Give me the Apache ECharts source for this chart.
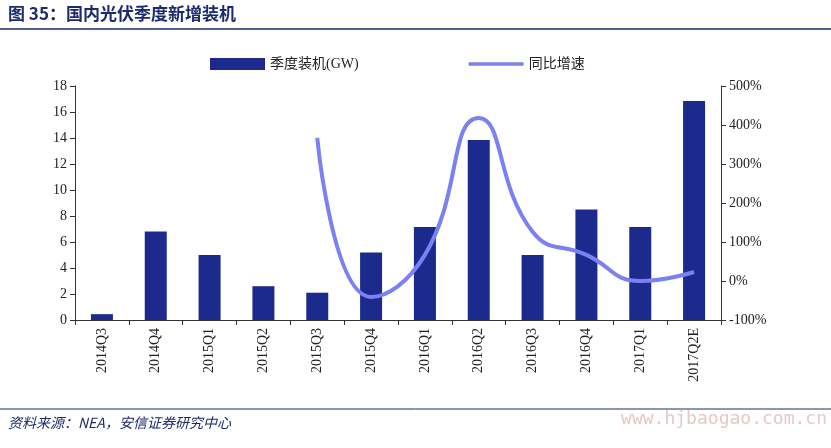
<!DOCTYPE html>
<html><head><meta charset="utf-8">
<script src="https://cdn.jsdelivr.net/npm/echarts@6/dist/echarts.min.js"></script>
<style>body{margin:0;background:#fff}#c{width:831px;height:448px}</style>
</head><body><div id="c"></div>
<script>
// 国内光伏季度新增装机
const categories = ['2014Q3','2014Q4','2015Q1','2015Q2','2015Q3','2015Q4','2016Q1','2016Q2','2016Q3','2016Q4','2017Q1','2017Q2E'];
const installs = [0.45, 6.8, 5.0, 2.6, 2.1, 5.2, 7.15, 13.85, 5.0, 8.5, 7.15, 16.85];
const yoyGrowth = [null, null, null, null, 367, -41, 67, 418, 126, 67, 0, 23];

const serif = '"Liberation Serif", "Noto Sans CJK SC", serif';
const chart = echarts.init(document.getElementById('c'));
chart.setOption({
    animation: false,
    graphic: [
        { type: 'text', left: 8, top: 5, style: { text: '图 35：国内光伏季度新增装机', font: 'bold 17px "Noto Sans CJK SC"', fill: '#1a2a6c' } },
        { type: 'line', shape: { x1: 0, y1: 29, x2: 831, y2: 29 }, style: { stroke: '#1a2a6c', lineWidth: 1.5 } },
        { type: 'line', shape: { x1: 0, y1: 409, x2: 831, y2: 409 }, style: { stroke: '#1a2a6c', lineWidth: 1 } },
        { type: 'text', left: 8, top: 416, style: { text: '资料来源：NEA，安信证券研究中心', font: 'italic 14px "Noto Sans CJK SC"', fill: '#1a2a6c' } },
        { type: 'text', right: 4, top: 410, style: { text: 'www.hjbaogao.com.cn', font: '18px "DejaVu Sans Mono"', fill: '#e6c8c8' } }
    ],
    legend: {
        top: 52, left: 205, itemGap: 110, itemWidth: 55, itemHeight: 12,
        textStyle: { fontFamily: serif, fontSize: 14, color: '#222' },
        data: [
            { name: '季度装机(GW)', icon: 'rect' },
            { name: '同比增速', icon: 'path://M0,5 L60,5 L60,9 L0,9 Z' }
        ]
    },
    grid: { left: 75, right: 110, top: 86, bottom: 128 },
    xAxis: {
        type: 'category', data: categories,
        axisLine: { lineStyle: { color: '#333' } },
        axisTick: { show: true },
        axisLabel: { rotate: 90, fontFamily: serif, fontSize: 14, color: '#222', interval: 0 }
    },
    yAxis: [
        { type: 'value', min: 0, max: 18, interval: 2, splitLine: { show: false },
          axisLine: { show: true, lineStyle: { color: '#333' } }, axisTick: { show: true },
          axisLabel: { fontFamily: serif, fontSize: 14, color: '#222' } },
        { type: 'value', min: -100, max: 500, interval: 100, splitLine: { show: false },
          axisLine: { show: true, lineStyle: { color: '#333' } }, axisTick: { show: true },
          axisLabel: { formatter: '{value}%', fontFamily: serif, fontSize: 14, color: '#222' } }
    ],
    series: [
        { name: '季度装机(GW)', type: 'bar', data: installs, barWidth: 22, itemStyle: { color: '#1c2a8e' } },
        { name: '同比增速', type: 'line', yAxisIndex: 1, data: yoyGrowth, smooth: 0.5, showSymbol: false,
          lineStyle: { color: '#7b80f2', width: 4 }, itemStyle: { color: '#7b80f2' } }
    ]
});
</script></body></html>
